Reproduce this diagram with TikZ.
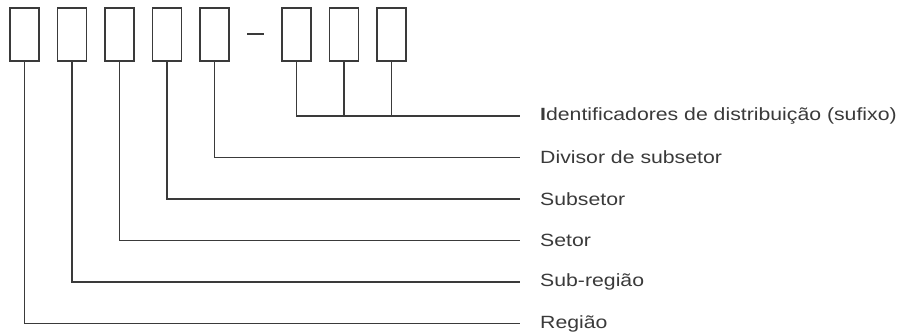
\documentclass[tikz,border=0pt]{standalone}
\usepackage{fontspec}
\setmainfont{Liberation Sans}[FakeStretch=1.2]
\usetikzlibrary{positioning}
\definecolor{ink}{HTML}{3A3A3A}
\tikzset{
  digit/.style = {draw=ink, line width=1.5pt, minimum width=29pt, minimum height=53pt, inner sep=0pt},
  label/.style = {anchor=west, inner xsep=20pt, inner ysep=0pt, text=ink, font=\fontsize{17.7}{20}\selectfont},
  lead/.style = {draw=ink, line width=1.2pt}
}
\begin{document}
\begin{tikzpicture}[x=1pt, y=-1pt]
\useasboundingbox (0,0) rectangle (897,336);
% caixas do codigo
\node[digit] (b1) at (24.5,34.5) {};
\node[digit, right=17pt of b1] (b2) {};
\node[digit, right=17pt of b2] (b3) {};
\node[digit, right=17pt of b3] (b4) {};
\node[digit, right=17pt of b4] (b5) {};
\node[digit, right=51.5pt of b5] (b6) {};
\node[digit, right=17pt of b6] (b7) {};
\node[digit, right=17pt of b7] (b8) {};
\draw[lead] (247,34) -- (264,34);
% rotulos
\node[label] (l6) at (520,116) {\textbf{I}dentificadores de distribuição (sufixo)};
\node[label] (l5) at (520,157.5) {Divisor de subsetor};
\node[label] (l4) at (520,199) {Subsetor};
\node[label] (l3) at (520,240.5) {Setor};
\node[label] (l2) at (520,282) {Sub-região};
\node[label] (l1) at (520,323.5) {Região};
% ligacoes
\draw[lead] (b6.south) |- (l6.west);
\draw[lead] (b7.south) -- (b7.south |- l6.west);
\draw[lead] (b8.south) -- (b8.south |- l6.west);
\draw[lead] (b5.south) |- (l5.west);
\draw[lead] (b4.south) |- (l4.west);
\draw[lead] (b3.south) |- (l3.west);
\draw[lead] (b2.south) |- (l2.west);
\draw[lead] (b1.south) |- (l1.west);
\end{tikzpicture}
\end{document}
